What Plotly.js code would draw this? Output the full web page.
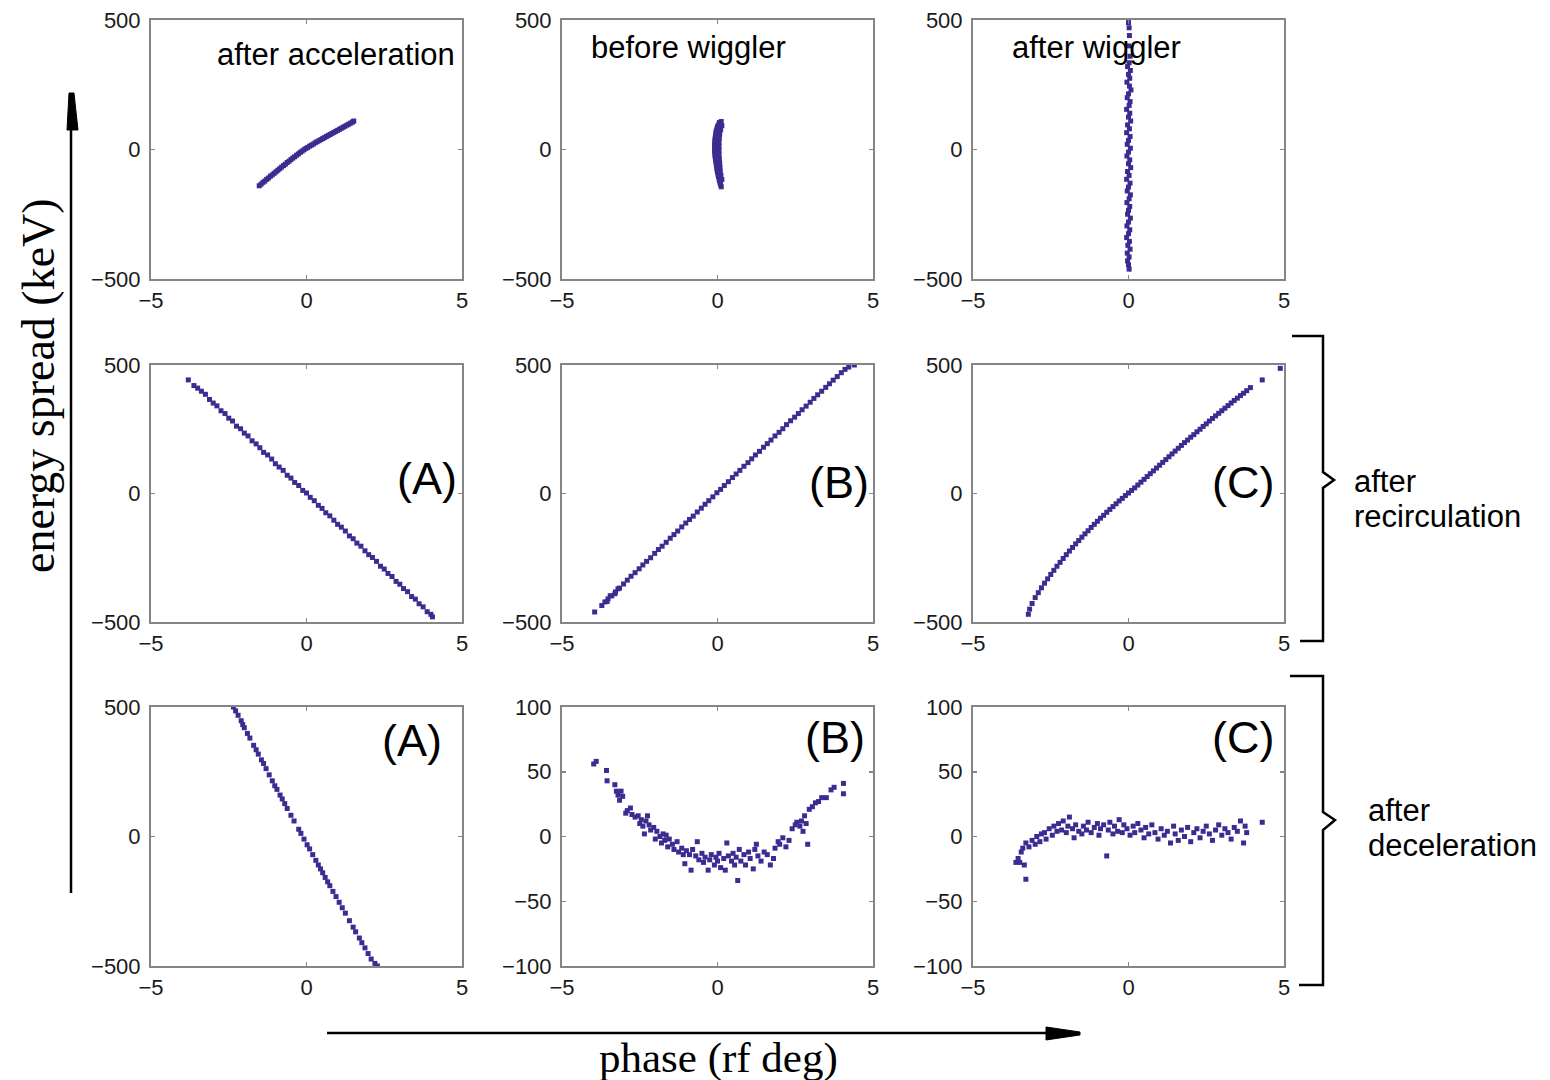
<!DOCTYPE html>
<html><head><meta charset="utf-8">
<script src="https://cdn.plot.ly/plotly-3.0.1.min.js"></script>
<style>html,body{margin:0;padding:0;background:#fff}#chart{width:1550px;height:1080px}</style>
</head><body><div id="chart"></div>
<script>
// ---------- DATA ----------
const xTicks = [-5, 0, 5];
const yTicksWide = [-500, 0, 500];
const yTicksNarrow = [-100, -50, 0, 50, 100];
const panelTitles = ["after acceleration", "before wiggler", "after wiggler"];
const caseLabels = ["(A)", "(B)", "(C)"];
const rowLabels = [["after", "recirculation"], ["after", "deceleration"]];
const xTitle = "phase (rf deg)";
const yTitle = "energy spread (keV)";

// row 1 : after acceleration
const accX = [-1.52,-1.46,-1.4,-1.34,-1.28,-1.22,-1.16,-1.1,-1.04,-0.98,-0.92,-0.86,-0.8,-0.74,-0.68,-0.62,-0.56,-0.5,-0.44,-0.38,-0.32,-0.26,-0.2,-0.14,-0.08,-0.02,0.04,0.1,0.16,0.22,0.28,0.34,0.4,0.46,0.52,0.58,0.64,0.7,0.76,0.82,0.88,0.94,1.0,1.06,1.12,1.18,1.24,1.3,1.36,1.42,1.48,1.52];
const accY = [-140,-134,-127,-122,-115,-110,-103,-98,-92,-86,-80,-74,-68,-62,-57,-50,-45,-39,-33,-28,-22,-17,-11,-6,-1,4,8,13,17,21,26,30,34,38,42,46,50,54,58,62,66,70,74,78,82,86,90,94,98,102,106,110];
// row 1 : before wiggler
const befX = [0.12,0.06,0.03,0.0,-0.02,-0.04,-0.05,-0.06,-0.07,-0.08,-0.08,-0.09,-0.09,-0.09,-0.09,-0.09,-0.08,-0.08,-0.07,-0.06,-0.05,-0.04,-0.03,-0.02,-0.01,0.0,0.02,0.03,0.05,0.06,0.08,0.1,0.12,
              0.14,0.1,0.07,0.06,0.05,0.05,0.05,0.05,0.06,0.07,0.08,0.09,0.11,0.14];
const befY = [108,104,95,88,80,72,64,56,48,40,32,24,16,8,0,-8,-16,-24,-32,-40,-48,-56,-64,-72,-80,-88,-96,-104,-112,-120,-128,-136,-144,
              92,76,60,44,28,12,-4,-20,-36,-52,-68,-84,-100,-116];
// row 1 : after wiggler
const aftX = [0.0,0.02,0.03,0.0,0.05,0.02,-0.03,0.06,0.0,0.04,-0.05,0.03,0.08,0.0,-0.04,0.05,0.02,-0.06,0.04,0.0,0.07,-0.03,0.03,-0.06,0.05,0.0,-0.04,0.06,0.0,-0.05,0.04,0.0,0.07,-0.03,0.02,-0.06,0.05,0.0,-0.04,0.06,0.02,-0.05,0.04,0.0,-0.03,0.06,0.0,-0.05,0.04,0.0,-0.06,0.03,-0.02,0.05,-0.04,0.02,-0.03,0.0,0.02];
const aftY = [490,470,440,400,360,335,320,305,290,275,260,245,230,215,200,185,170,155,140,125,110,95,80,65,50,35,20,5,-10,-25,-40,-55,-70,-85,-100,-115,-130,-145,-160,-175,-190,-205,-220,-235,-250,-265,-280,-295,-310,-325,-340,-355,-370,-385,-400,-415,-430,-445,-462];

// row 2 : after recirculation (A), (B), (C)
const recAX = [-3.8,-3.62,-3.5,-3.38,-3.25,-3.12,-3.0,-2.88,-2.75,-2.62,-2.5,-2.38,-2.25,-2.12,-2.0,-1.88,-1.75,-1.62,-1.5,-1.38,-1.25,-1.12,-1.0,-0.88,-0.75,-0.62,-0.5,-0.38,-0.25,-0.12,0.0,0.12,0.25,0.38,0.5,0.62,0.75,0.88,1.0,1.12,1.25,1.38,1.5,1.62,1.75,1.88,2.0,2.12,2.25,2.38,2.5,2.62,2.75,2.88,3.0,3.12,3.25,3.38,3.5,3.62,3.75,3.88,4.0,4.05];
const recAY = [442,420,410,398,386,366,352,341,322,311,293,282,262,252,235,224,205,193,178,160,150,134,116,103,90,71,60,43,31,12,2,-15,-28,-46,-58,-75,-87,-104,-120,-131,-146,-165,-176,-193,-205,-223,-238,-249,-264,-283,-294,-311,-323,-342,-353,-370,-382,-401,-411,-429,-441,-460,-470,-480];
const recBX = [-3.95,-3.72,-3.62,-3.52,-3.4,-3.28,-3.15,-3.02,-2.9,-2.78,-2.65,-2.52,-2.4,-2.28,-2.15,-2.02,-1.9,-1.78,-1.65,-1.52,-1.4,-1.28,-1.15,-1.02,-0.9,-0.78,-0.65,-0.52,-0.4,-0.28,-0.15,-0.02,0.1,0.22,0.35,0.48,0.6,0.72,0.85,0.98,1.1,1.22,1.35,1.48,1.6,1.72,1.85,1.98,2.1,2.22,2.35,2.48,2.6,2.72,2.85,2.98,3.1,3.22,3.35,3.48,3.6,3.72,3.85,3.98,4.1,4.22,4.4,
               -3.55,-3.45,-3.3,-3.2];
const recBY = [-461,-436,-422,-410,-398,-383,-368,-352,-337,-322,-308,-293,-278,-264,-250,-233,-218,-205,-190,-174,-160,-146,-130,-115,-101,-88,-72,-57,-42,-28,-13,3,16,31,46,62,76,90,106,120,135,150,164,180,194,208,224,238,252,268,283,297,311,326,340,355,370,384,398,413,427,441,455,470,483,492,500,
               -420,-398,-390,-371];
const recCX = [-3.22,-3.18,-3.1,-3.0,-2.9,-2.8,-2.7,-2.6,-2.5,-2.4,-2.3,-2.2,-2.1,-2.0,-1.9,-1.8,-1.7,-1.6,-1.5,-1.4,-1.3,-1.2,-1.1,-1.0,-0.9,-0.8,-0.7,-0.6,-0.5,-0.4,-0.3,-0.2,-0.1,0.0,0.1,0.2,0.3,0.4,0.5,0.6,0.7,0.8,0.9,1.0,1.1,1.2,1.3,1.4,1.5,1.6,1.7,1.8,1.9,2.0,2.1,2.2,2.3,2.4,2.5,2.6,2.7,2.8,2.9,3.0,3.1,3.2,3.3,3.4,3.5,3.6,3.7,3.8,3.92,4.3,4.88];
const recCY = [-470,-450,-428,-405,-386,-367,-349,-332,-315,-299,-283,-268,-253,-238,-224,-210,-196,-183,-170,-157,-145,-132,-120,-108,-96,-85,-73,-62,-51,-40,-29,-19,-8,2,12,22,33,44,55,66,77,88,99,110,121,132,143,154,165,176,187,198,208,219,229,240,250,261,271,282,292,302,312,322,332,342,352,362,371,381,390,400,412,442,487];

// row 3 : after deceleration (A), (B), (C)
const decAX = [-2.35,-2.28,-2.2,-2.1,-2.05,-2.0,-1.9,-1.82,-1.7,-1.62,-1.55,-1.45,-1.38,-1.3,-1.2,-1.1,-1.02,-0.95,-0.85,-0.78,-0.7,-0.62,-0.5,-0.4,-0.25,-0.18,-0.08,0.02,0.1,0.2,0.3,0.38,0.45,0.52,0.6,0.68,0.75,0.85,0.95,1.05,1.15,1.25,1.38,1.5,1.58,1.7,1.78,1.88,1.98,2.08,2.2,2.28];
const decAY = [500,485,468,447,432,420,398,380,352,335,318,296,282,262,238,215,196,182,160,145,127,108,82,60,28,12,-10,-32,-48,-70,-92,-110,-125,-140,-158,-175,-190,-212,-232,-254,-275,-296,-325,-350,-368,-392,-410,-430,-452,-473,-490,-500];
const decBX = [-3.98,-3.9,-3.57,-3.55,-3.3,-3.25,-3.2,-3.15,-3.1,-3.05,-2.95,-2.9,-2.8,-2.75,-2.65,-2.55,-2.5,-2.45,-2.4,-2.35,-2.3,-2.25,-2.2,-2.15,-2.05,-2.0,-1.95,-1.85,-1.8,-1.75,-1.7,-1.65,-1.6,-1.55,-1.45,-1.4,-1.3,-1.25,-1.15,-1.1,-1.05,-1.0,-0.9,-0.85,-0.8,-0.7,-0.65,-0.6,-0.5,-0.45,-0.4,-0.3,-0.25,-0.2,-0.1,-0.05,0.0,0.05,0.1,0.2,0.25,0.3,0.35,0.45,0.5,0.55,0.6,0.65,0.7,0.75,0.85,0.9,1.0,1.05,1.15,1.2,1.25,1.3,1.4,1.5,1.6,1.7,1.8,1.85,1.95,2.0,2.1,2.2,2.3,2.4,2.5,2.55,2.65,2.7,2.75,2.8,2.85,2.9,2.95,3.05,3.15,3.25,3.35,3.5,3.65,3.75,4.05,4.05];
const decBY = [56,58,51,43,40,35,32,28,35,31,18,20,22,17,15,16,10,13,8,2,12,16,9,5,7,-2,4,0,-5,2,-3,1,-8,-2,-6,-10,-4,-12,-9,-14,-21,-11,-14,-26,-10,-15,-4,-18,-13,-20,-16,-26,-18,-14,-22,-16,-19,-13,-24,-17,-26,-5,-15,-19,-13,-22,-16,-34,-10,-19,-14,-22,-12,-17,-25,-10,-6,-15,-19,-12,-14,-22,-17,-9,-4,-6,-1,-8,-3,6,9,11,8,12,4,16,10,-6,21,23,26,27,30,30,36,38,41,33];
const decCX = [-3.62,-3.55,-3.5,-3.45,-3.4,-3.35,-3.3,-3.3,-3.2,-3.1,-3.0,-2.95,-2.85,-2.8,-2.7,-2.65,-2.55,-2.45,-2.4,-2.3,-2.25,-2.15,-2.1,-2.0,-1.95,-1.9,-1.8,-1.75,-1.7,-1.6,-1.5,-1.45,-1.35,-1.3,-1.2,-1.1,-1.0,-0.95,-0.9,-0.8,-0.7,-0.65,-0.6,-0.5,-0.45,-0.35,-0.3,-0.2,-0.15,-0.05,0.05,0.15,0.2,0.3,0.4,0.5,0.55,0.65,0.75,0.85,0.95,1.05,1.15,1.25,1.35,1.45,1.5,1.6,1.7,1.8,1.9,2.0,2.1,2.2,2.3,2.4,2.5,2.6,2.7,2.8,2.9,3.0,3.1,3.2,3.3,3.4,3.5,3.6,3.7,3.75,3.8,4.3];
const decCY = [-20,-17,-20,-12,-9,-22,-33,-5,-8,-3,-6,0,-4,2,3,-2,6,1,8,4,10,5,12,3,8,15,6,-1,9,4,2,8,5,11,3,7,10,1,6,9,-15,5,11,2,8,4,13,3,9,6,1,8,3,10,5,-1,7,2,9,3,-2,6,1,4,-5,8,2,-3,5,0,7,-4,3,6,-1,4,8,2,-3,5,9,1,6,3,-2,7,4,12,-5,8,3,11];

// ---------- LAYOUT GEOMETRY ----------
const W = 1550, H = 1080;
const fx = p => p / W, fy = p => 1 - p / H;
const cols = [[151, 462], [562, 873], [973, 1284]];
const rows = [[20, 279], [365, 622], [707, 966]];

const panels = [
  [accX, accY, yTicksWide], [befX, befY, yTicksWide], [aftX, aftY, yTicksWide],
  [recAX, recAY, yTicksWide], [recBX, recBY, yTicksWide], [recCX, recCY, yTicksWide],
  [decAX, decAY, yTicksWide], [decBX, decBY, yTicksNarrow], [decCX, decCY, yTicksNarrow]
];

const tickFont = {family: "Liberation Sans, Arial, sans-serif", size: 22, color: "#1a1a1a"};
const markColor = "#3c2c91";
const data = [];
const layout = {
  width: W, height: H, margin: {l: 0, r: 0, t: 0, b: 0},
  paper_bgcolor: "#fff", plot_bgcolor: "#fff", showlegend: false,
  annotations: [], shapes: []
};

panels.forEach((p, i) => {
  const r = Math.floor(i / 3), c = i % 3;
  const n = i === 0 ? "" : String(i + 1);
  const yt = p[2];
  data.push({
    type: "scatter", mode: "markers", x: p[0], y: p[1],
    xaxis: "x" + n, yaxis: "y" + n, hoverinfo: "skip",
    marker: {symbol: "square", size: 5, color: markColor, line: {width: 0}}
  });
  const axBase = {
    showline: true, linecolor: "#858585", linewidth: 2, mirror: "ticks",
    ticks: "inside", ticklen: 4, tickwidth: 1.5, tickcolor: "#858585",
    showgrid: false, zeroline: false, tickfont: tickFont, fixedrange: true
  };
  layout["xaxis" + n] = Object.assign({}, axBase, {
    domain: [fx(cols[c][0]), fx(cols[c][1])], anchor: "y" + n,
    range: [xTicks[0], xTicks[2]], tickmode: "array", tickvals: xTicks, ticklabelstandoff: 1
  });
  layout["yaxis" + n] = Object.assign({}, axBase, {
    domain: [fy(rows[r][1]), fy(rows[r][0])], anchor: "x" + n,
    range: [yt[0], yt[yt.length - 1]], tickmode: "array", tickvals: yt, ticklabelstandoff: 4
  });
});

function ann(text, x, y, size, xanchor, extra) {
  layout.annotations.push(Object.assign({
    text: text, xref: "paper", yref: "paper", x: fx(x), y: fy(y),
    xanchor: xanchor, yanchor: "middle", showarrow: false,
    font: {family: "Liberation Sans, Arial, sans-serif", size: size, color: "#000"}
  }, extra || {}));
}
// panel titles (row 1)
ann(panelTitles[0], 457, 54, 31, "right");
ann(panelTitles[1], 589, 48, 31, "left");
ann(panelTitles[2], 1010, 48, 31, "left");
// case labels
ann(caseLabels[0], 459, 478, 45, "right");
ann(caseLabels[1], 871, 482, 45, "right");
ann(caseLabels[2], 1276, 482, 45, "right");
ann(caseLabels[0], 444, 740, 45, "right");
ann(caseLabels[1], 867, 737, 45, "right");
ann(caseLabels[2], 1276, 737, 45, "right");
// row labels at right
ann(rowLabels[0][0], 1352, 481, 31, "left");
ann(rowLabels[0][1], 1352, 516, 31, "left");
ann(rowLabels[1][0], 1366, 810, 31, "left");
ann(rowLabels[1][1], 1366, 845, 31, "left");
// axis titles
ann(xTitle, 718, 1058, 43, "center", {font: {family: "Liberation Serif, Times New Roman, serif", size: 43, color: "#000"}});
ann(yTitle, 38, 386, 46, "center", {textangle: -90, font: {family: "Liberation Serif, Times New Roman, serif", size: 46, color: "#000"}});

// arrows and braces (paper coordinates)
function pathOf(pts, close) {
  return pts.map((q, k) => (k ? "L" : "M") + fx(q[0]).toFixed(5) + "," + fy(q[1]).toFixed(5)).join(" ") + (close ? " Z" : "");
}
const blk = {color: "#000", width: 2.5};
layout.shapes.push({type: "path", xref: "paper", yref: "paper", path: pathOf([[71, 893], [71, 110]]), line: blk});
layout.shapes.push({type: "path", xref: "paper", yref: "paper", path: pathOf([[67, 130], [69, 93], [74, 93], [78, 130]], true), line: {color: "#000", width: 1}, fillcolor: "#000"});
layout.shapes.push({type: "path", xref: "paper", yref: "paper", path: pathOf([[327, 1033], [1060, 1033]]), line: blk});
layout.shapes.push({type: "path", xref: "paper", yref: "paper", path: pathOf([[1046, 1027], [1080, 1032], [1080, 1035], [1046, 1040]], true), line: {color: "#000", width: 1}, fillcolor: "#000"});
layout.shapes.push({type: "path", xref: "paper", yref: "paper", path: pathOf([[1292, 336], [1323, 336], [1323, 472], [1334, 480], [1323, 488], [1323, 641], [1300, 641]]), line: blk});
layout.shapes.push({type: "path", xref: "paper", yref: "paper", path: pathOf([[1290, 676], [1323, 676], [1323, 812], [1335, 820], [1323, 830], [1323, 985], [1299, 985]]), line: blk});

Plotly.newPlot("chart", data, layout, {displayModeBar: false, staticPlot: true});
</script>
</body></html>
